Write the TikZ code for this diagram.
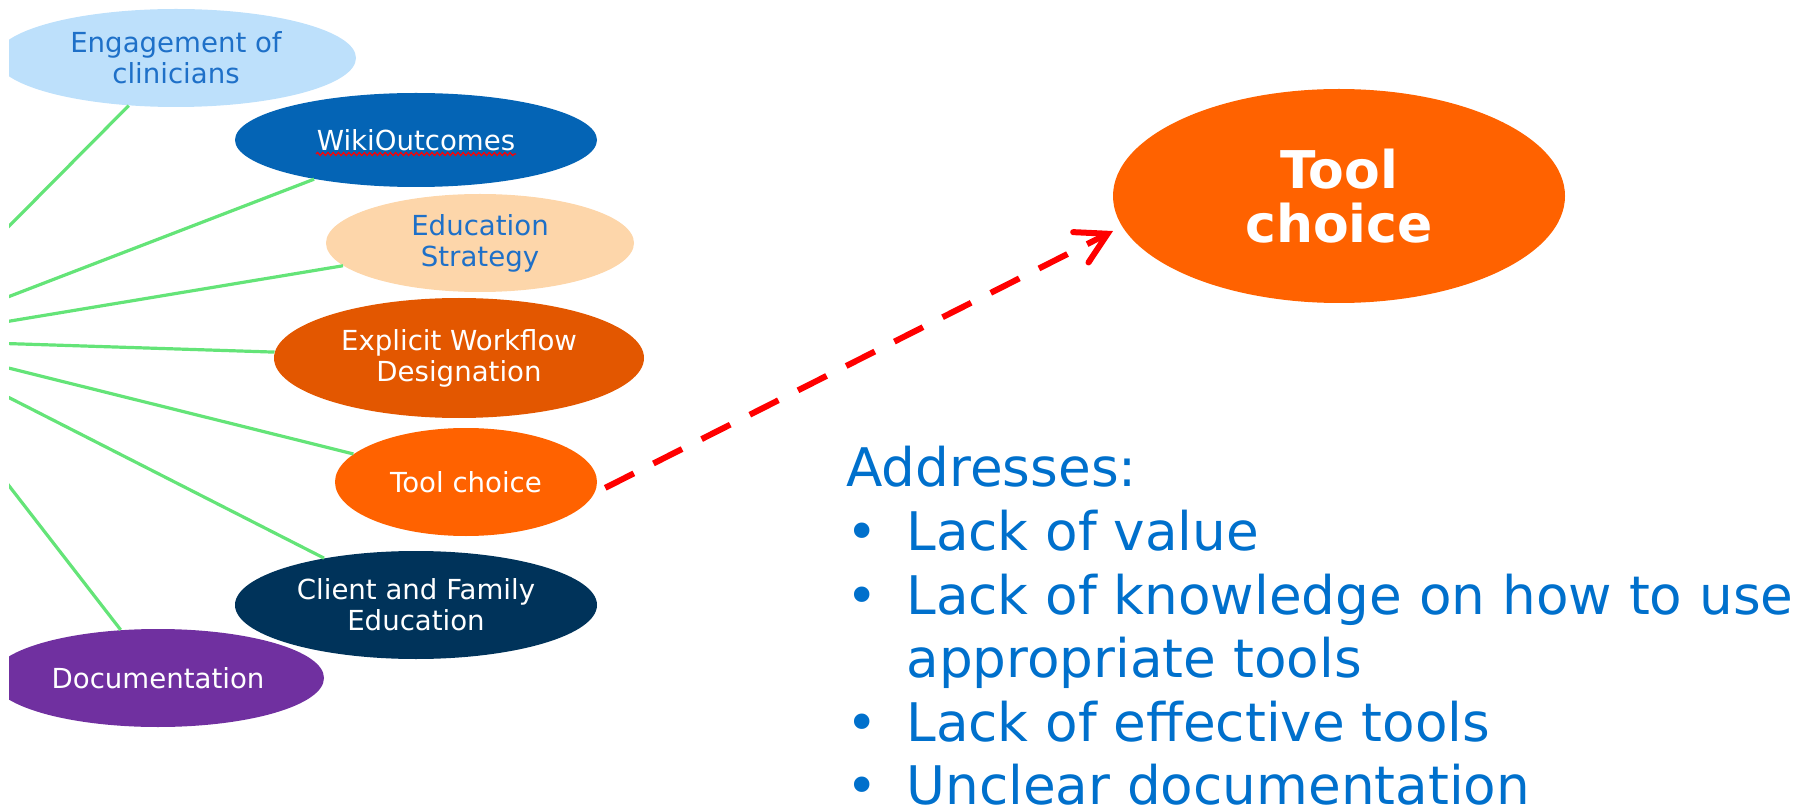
\documentclass[tikz,border=0pt]{standalone}
\usepackage{fontspec}
\setmainfont{DejaVu Sans}
\usepackage{tikz}
\usetikzlibrary{shapes.geometric,arrows.meta,decorations.pathmorphing}

\definecolor{engblue}{RGB}{189,224,251}
\definecolor{wikiblue}{RGB}{4,100,181}
\definecolor{edupeach}{RGB}{253,214,170}
\definecolor{floworange}{RGB}{227,87,0}
\definecolor{toolorange}{RGB}{255,98,0}
\definecolor{clientnavy}{RGB}{0,51,90}
\definecolor{docpurple}{RGB}{112,48,160}
\definecolor{textblue}{RGB}{30,112,200}
\definecolor{listblue}{RGB}{0,112,204}
\definecolor{spokegreen}{RGB}{100,228,120}

\newcommand{\blt}{\makebox[30pt][l]{\textbullet}}

\begin{document}
\begin{tikzpicture}[x=0.5pt, y=-0.5pt,
    topic/.style={ellipse, inner sep=0pt, align=center, font=\fontsize{13.8}{15.5}\selectfont},
    spoke/.style={spokegreen, line width=1.6pt}]
    \useasboundingbox (0,0) rectangle (1814,812);

    \begin{scope}
    \clip (9,0) rectangle (1814,812);
                \coordinate (hub) at (-104,340);
                \node (eng) [topic, fill=engblue, text=textblue, minimum width=180pt, minimum height=49pt] at (176,58) {Engagement of\\clinicians};
                \node (wiki) [topic, fill=wikiblue, text=white, minimum width=181pt, minimum height=47pt] at (416,140) {WikiOutcomes};
                \node (edu) [topic, fill=edupeach, text=textblue, minimum width=154pt, minimum height=49pt] at (480,243) {Education\\Strategy};
                \node (flow) [topic, fill=floworange, text=white, minimum width=185pt, minimum height=60pt] at (459,358) {Explicit Workflow\\Designation};
                \node (tool) [topic, fill=toolorange, text=white, minimum width=131pt, minimum height=54pt] at (466,482) {Tool choice};
                \node (doc) [topic, fill=docpurple, text=white, minimum width=166pt, minimum height=49pt] at (158,678) {Documentation};
                \node (client) [topic, fill=clientnavy, text=white, minimum width=181pt, minimum height=54pt] at (416,605) {Client and Family\\Education};

			\foreach \n in {eng,wiki,edu,flow,tool,client,doc}
			    \draw[spoke] (hub) -- (\n);
    \end{scope}

			% spell-check squiggle under the wiki label
			\draw[red, line width=0.6pt, decorate, decoration={snake, amplitude=0.8pt, segment length=2.6pt}]
			    ([xshift=-50pt,yshift=-7pt]wiki.center) -- ([xshift=50pt,yshift=-7pt]wiki.center);

                \node (bigtool) [ellipse, inner sep=0pt, fill=toolorange, text=white, align=center, minimum width=226pt, minimum height=107pt, font=\fontsize{26}{27}\selectfont\bfseries] at (1339,196) {Tool\\choice};

			\draw[red, line width=3pt, dash pattern=on 16pt off 11pt, shorten <=6pt, shorten >=5pt,
			    -{Straight Barb[length=15pt, width=17pt, line cap=round]}] (tool.-5) -- (bigtool.188);

                \node (addr) [anchor=north west, inner sep=0pt, text=listblue, align=left, font=\fontsize{26.6}{31.8}\selectfont] at (846,446)
                    {Addresses:\\ \blt Lack of value\\ \blt Lack of knowledge on how to use\\ \makebox[30pt]{}appropriate tools\\ \blt Lack of effective tools\\ \blt Unclear documentation};
\end{tikzpicture}
\end{document}
